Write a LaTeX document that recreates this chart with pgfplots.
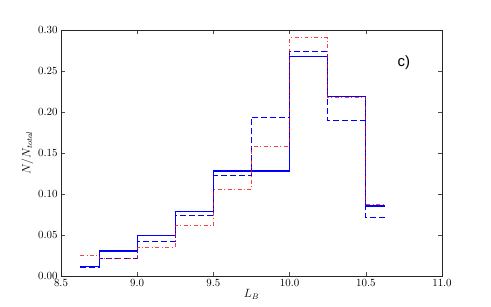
\documentclass[border=0pt]{standalone}
\usepackage{pgfplots}
\pgfplotsset{compat=1.18}
\usepackage{fontspec}
\newfontfamily\helv{Liberation Sans}
\begin{document}
\begin{tikzpicture}
\path[use as bounding box] (0,0) rectangle (491bp,307bp);
\begin{axis}[
  at={(61bp,31bp)}, anchor=south west,
  scale only axis, width=381bp, height=246bp,
  xmin=8.5, xmax=11, ymin=0, ymax=0.3,
  xtick={8.5,9.0,9.5,10.0,10.5,11.0},
  ytick={0,0.05,0.10,0.15,0.20,0.25,0.30},
  xticklabel style={/pgf/number format/.cd,fixed,fixed zerofill,precision=1},
  yticklabel style={/pgf/number format/.cd,fixed,fixed zerofill,precision=2},
  tick align=inside, tick pos=both,
  major tick length=4bp,
  axis line style={line width=0.9pt, black!85},
  tick style={black!70, line width=0.6pt},
  ticklabel style={font=\fontsize{11}{13}\selectfont},
  xlabel={$L_{B}$}, ylabel={$N/N_{total}$},
  label style={font=\fontsize{12}{14}\selectfont},
  xlabel style={yshift=4pt},
  ylabel style={yshift=-2pt},
  const plot,
]
\addplot[blue, line width=1.1pt] coordinates {
(8.625,0.012) (8.75,0.0305) (9.0,0.049) (9.25,0.079) (9.5,0.128) (9.75,0.128)
(10.0,0.2675) (10.25,0.219) (10.5,0.0854) (10.625,0.0854)};
\addplot[blue, line width=1.0pt, dash pattern=on 6pt off 3pt] coordinates {
(8.625,0.010) (8.75,0.0215) (9.0,0.042) (9.25,0.074) (9.5,0.1223) (9.75,0.1935)
(10.0,0.2736) (10.25,0.190) (10.5,0.071) (10.625,0.071)};
\addplot[red, opacity=0.75, line width=1.0pt, dash pattern=on 4pt off 2.5pt on 1pt off 2.5pt] coordinates {
(8.625,0.0244) (8.75,0.021) (9.0,0.035) (9.25,0.061) (9.5,0.105) (9.75,0.158)
(10.0,0.2906) (10.25,0.218) (10.5,0.0866) (10.625,0.0866)};
\node[font=\helv\fontsize{15}{17}\selectfont] at (axis cs:10.75,0.26) {c)};
\end{axis}
\end{tikzpicture}
\end{document}
